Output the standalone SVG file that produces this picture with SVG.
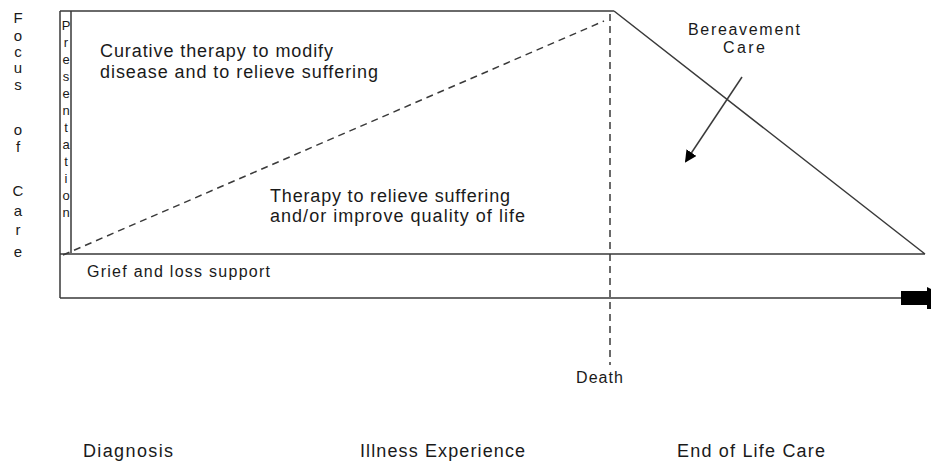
<svg xmlns="http://www.w3.org/2000/svg" width="931" height="464" viewBox="0 0 931 464">
<style>
text{font-family:"Liberation Sans",Arial,sans-serif;fill:#1a1a1a}
.ln{stroke:#3a3a3a;stroke-width:1.5;fill:none}
.ds{stroke:#3a3a3a;stroke-width:1.5;fill:none;stroke-dasharray:7 5}
.vt{font-size:15px;text-anchor:middle}
.pt{font-size:13px;text-anchor:middle}
.big{font-size:18px}
.mid{font-size:16px}
</style>
<defs>
<marker id="ah" markerWidth="12" markerHeight="12" refX="10" refY="6" orient="auto" markerUnits="userSpaceOnUse">
<path d="M0,0 L12,6 L0,12 Z" fill="#000"/>
</marker>
</defs>
<g id="axis-label">
<text class="vt" x="18" y="23">F</text>
<text class="vt" x="18" y="41">o</text>
<text class="vt" x="18" y="57">c</text>
<text class="vt" x="18" y="73">u</text>
<text class="vt" x="18" y="90">s</text>
<text class="vt" x="18" y="135">o</text>
<text class="vt" x="18" y="152">f</text>
<text class="vt" x="18" y="196">C</text>
<text class="vt" x="18" y="216">a</text>
<text class="vt" x="18" y="235">r</text>
<text class="vt" x="18" y="257">e</text>
</g>
<g id="frame">
<path class="ln" d="M60,11 H614 M60,11 V298 M71,11 V253 M60,254 H925 M614,11 L925,254 M60,298 H902"/>
<rect x="901" y="291" width="27" height="14" fill="#000"/>
<path d="M927,287 L931,289 L931,309 L927,309 Z" fill="#000"/>
</g>
<g id="presentation">
<text class="pt" x="66" y="30">P</text>
<text class="pt" x="66" y="47">r</text>
<text class="pt" x="66" y="64">e</text>
<text class="pt" x="66" y="81">s</text>
<text class="pt" x="66" y="98">e</text>
<text class="pt" x="66" y="115">n</text>
<text class="pt" x="66" y="132">t</text>
<text class="pt" x="66" y="149">a</text>
<text class="pt" x="66" y="166">t</text>
<text class="pt" x="66" y="183">i</text>
<text class="pt" x="66" y="200">o</text>
<text class="pt" x="66" y="217">n</text>
</g>
<g id="connectors">
<path class="ds" d="M63,255 L604,21"/>
<path class="ds" d="M610,14 V365" stroke-dasharray="5 4"/>
<path class="ln" d="M742,77 L686,161" marker-end="url(#ah)"/>
</g>
<g id="curative">
<text class="big" x="100" y="57" textLength="233" lengthAdjust="spacing">Curative therapy to modify</text>
<text class="big" x="100" y="78" textLength="278" lengthAdjust="spacing">disease and to relieve suffering</text>
</g>
<g id="palliative">
<text class="big" x="270" y="202" textLength="240" lengthAdjust="spacing">Therapy to relieve suffering</text>
<text class="big" x="270" y="222" textLength="255" lengthAdjust="spacing">and/or improve quality of  life</text>
</g>
<g id="bereavement">
<text class="mid" x="688" y="35" textLength="112" lengthAdjust="spacing">Bereavement</text>
<text class="mid" x="723" y="53" textLength="42" lengthAdjust="spacing">Care</text>
</g>
<g id="grief">
<text class="mid" x="87" y="277" textLength="183" lengthAdjust="spacing">Grief and loss support</text>
</g>
<g id="death">
<text class="mid" x="576" y="383" textLength="47" lengthAdjust="spacing">Death</text>
</g>
<g id="phases">
<text class="big" x="83" y="457" textLength="90" lengthAdjust="spacing">Diagnosis</text>
<text class="big" x="360" y="457" textLength="165" lengthAdjust="spacing">Illness Experience</text>
<text class="big" x="677" y="457" textLength="148" lengthAdjust="spacing">End of Life Care</text>
</g>
</svg>
